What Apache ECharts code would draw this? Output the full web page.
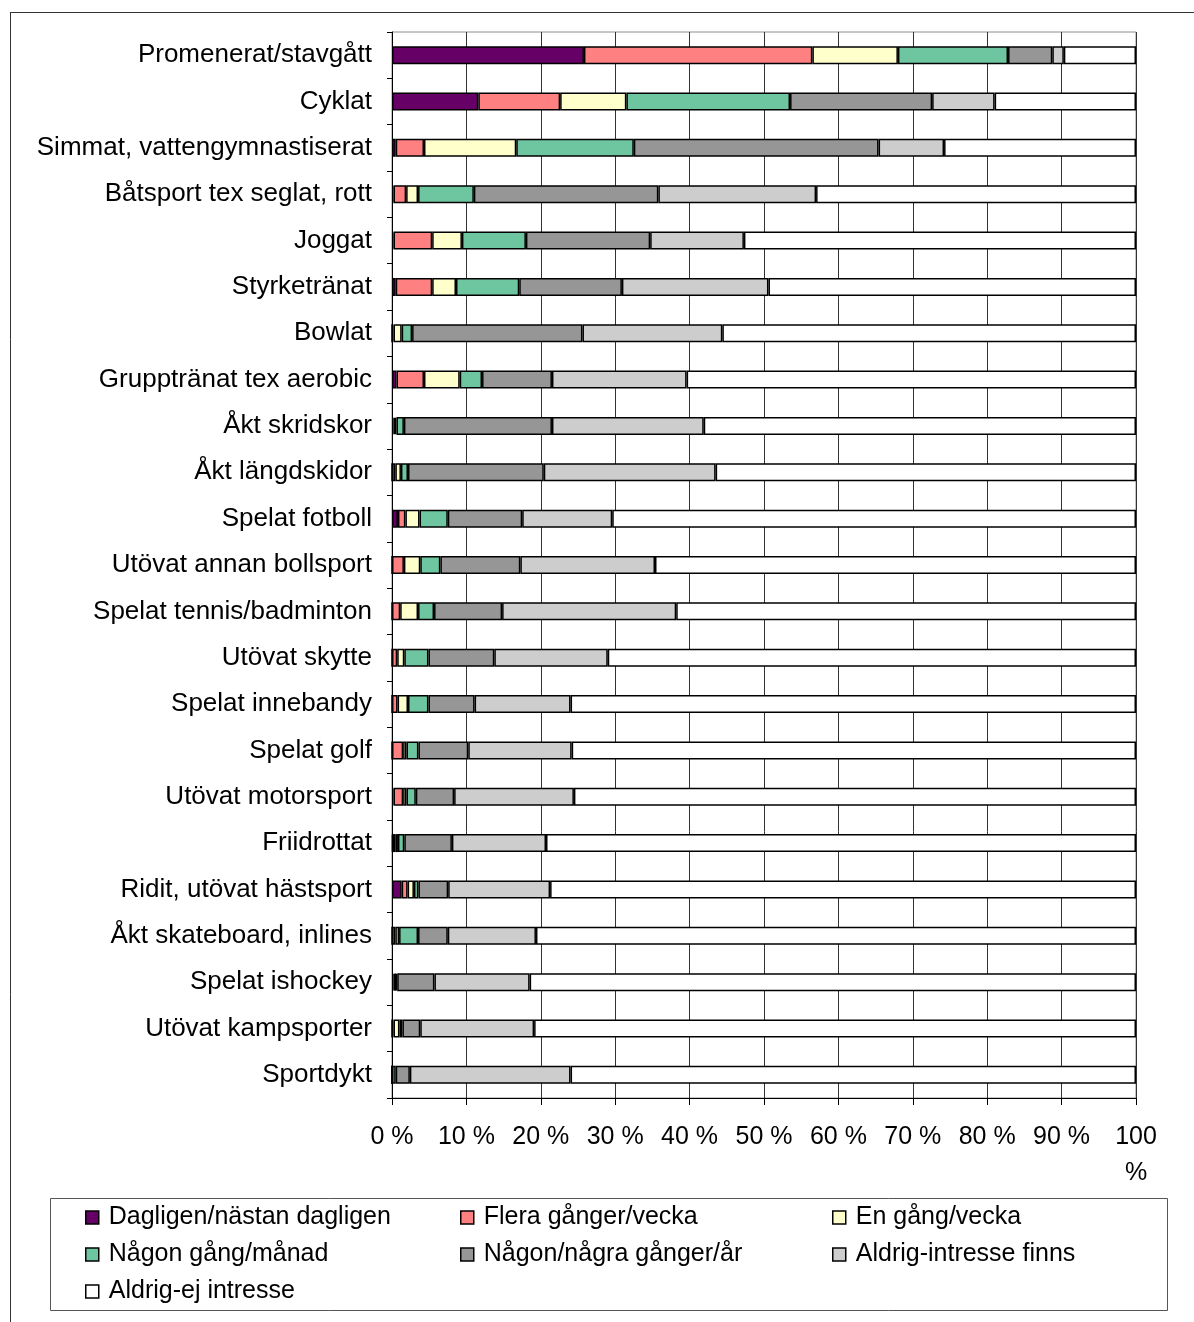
<!DOCTYPE html>
<html>
<head>
<meta charset="utf-8">
<script src="https://cdn.jsdelivr.net/npm/echarts@6/dist/echarts.min.js"></script>
<style>
html,body{margin:0;padding:0;background:#fff;}
#chart{width:1194px;height:1322px;}
</style>
</head>
<body>
<div id="chart"></div>
<script>
const categories = [
  'Promenerat/stavgått','Cyklat','Simmat, vattengymnastiserat','Båtsport tex seglat, rott',
  'Joggat','Styrketränat','Bowlat','Gruppträn​at tex aerobic'.replace('\u200b',''),'Åkt skridskor',
  'Åkt längdskidor','Spelat fotboll','Utövat annan bollsport','Spelat tennis/badminton',
  'Utövat skytte','Spelat innebandy','Spelat golf','Utövat motorsport','Friidrottat',
  'Ridit, utövat hästsport','Åkt skateboard, inlines','Spelat ishockey','Utövat kampsporter','Sportdykt'
];
const seriesNames = ['Dagligen/nästan dagligen','Flera gånger/vecka','En gång/vecka',
  'Någon gång/månad','Någon/några gånger/år','Aldrig-intresse finns','Aldrig-ej intresse'];

const dagligen   = [25.8,11.6,0.5,0.2,0.2,0.5,0,0.6,0.2,0,0.8,0,0,0,0,0,0.2,0.1,1.3,0,0.2,0,0];
const fleraVecka = [30.7,11.0,3.8,1.7,5.2,4.9,0.2,3.7,0.2,0.45,1.0,1.6,1.1,0.7,0.75,1.5,1.3,0.4,0.8,0.45,0.2,0.2,0];
const enVecka    = [11.5,8.9,12.4,1.6,4.0,3.2,1.1,4.8,0.2,0.75,1.9,2.2,2.4,0.95,1.4,0.45,0.45,0.3,0.85,0.5,0.1,0.8,0];
const manad      = [14.8,22.0,15.8,7.5,8.6,8.5,1.4,3.0,1.0,0.95,3.8,2.7,2.15,3.25,2.75,1.6,1.25,0.85,0.6,2.55,0.2,0.4,0.5];
const arVis      = [5.95,19.1,32.9,24.8,16.7,13.8,22.9,9.4,19.9,18.25,10.0,10.75,9.15,8.85,6.2,6.7,5.15,6.4,4.0,4.0,5.0,2.4,1.9];
const intresseFinns = [1.55,8.4,8.8,21.2,12.6,19.7,18.8,18.1,20.4,23.1,12.1,18.1,23.4,15.25,12.9,13.9,16.1,12.65,13.7,11.85,12.8,15.3,21.6];
const ejIntresse = [9.7,19.0,25.8,43.0,52.7,49.4,55.6,60.4,58.1,56.5,70.4,64.65,61.8,71.0,76.0,75.85,75.55,79.3,78.75,80.65,81.5,80.9,76.0];

const xTicks = [0,10,20,30,40,50,60,70,80,90,100];

const colors = ['#660066','#FF8080','#FFFFCC','#6EC6A1','#969696','#CDCDCD','#FFFFFF'];
const allData = [dagligen,fleraVecka,enVecka,manad,arVis,intresseFinns,ejIntresse];

const FONT = 'Liberation Sans, Arial, sans-serif';

const series = seriesNames.map((n,i)=>({
  name:n, type:'bar', stack:'total', barWidth:18,
  data: allData[i],
  itemStyle:{color:colors[i], borderColor:'#000', borderWidth:1.5},
  emphasis:{disabled:true}
}));

const legendBase = {
  orient:'vertical', itemWidth:13, itemHeight:13, itemGap:12, icon:'rect', padding:0,
  textStyle:{fontFamily:FONT, fontSize:25, color:'#000', lineHeight:24, padding:[0,0,0,5]},
  itemStyle:{borderColor:'#000', borderWidth:1.5},
  selectedMode:false, top:1205
};

const option = {
  animation:false,
  backgroundColor:'#fff',
  textStyle:{fontFamily:FONT},
  grid:{left:392, right:58, top:32, bottom:224, show:true, borderColor:'#8c8c8c', borderWidth:1, containLabel:false},
  xAxis:{
    type:'value', min:0, max:100, interval:10,
    axisLine:{show:true, lineStyle:{color:'#000', width:1}},
    axisTick:{show:true, length:7, lineStyle:{color:'#000'}},
    splitLine:{show:true, lineStyle:{color:'#333', width:1}},
    axisLabel:{
      fontFamily:FONT, fontSize:25, color:'#000', margin:21, lineHeight:36,
      formatter:v=> (xTicks.indexOf(v)<0 ? '' : (v===100 ? '100\n%' : v+' %'))
    }
  },
  yAxis:{
    type:'category', inverse:true, data:categories,
    axisLine:{show:true, lineStyle:{color:'#000', width:1}},
    axisTick:{show:true, length:5, lineStyle:{color:'#000'}},
    axisLabel:{fontFamily:FONT, fontSize:26, color:'#000', margin:20, padding:[6,0,0,0]}
  },
  legend:[
    Object.assign({}, legendBase, {left:85, data:[seriesNames[0],seriesNames[3],seriesNames[6]]}),
    Object.assign({}, legendBase, {left:460, data:[seriesNames[1],seriesNames[4]]}),
    Object.assign({}, legendBase, {left:832, data:[seriesNames[2],seriesNames[5]]})
  ],
  graphic:[
    {type:'line', shape:{x1:10, y1:12.5, x2:1194, y2:12.5}, style:{stroke:'#333', lineWidth:1}, silent:true},
    {type:'line', shape:{x1:10.5, y1:12, x2:10.5, y2:1322}, style:{stroke:'#333', lineWidth:1}, silent:true},
    {type:'rect', shape:{x:50.5, y:1198.5, width:1117, height:112}, style:{fill:null, stroke:'#555', lineWidth:1}, silent:true}
  ],
  series: series
};

const chart = echarts.init(document.getElementById('chart'), null, {renderer:'canvas'});
chart.setOption(option);
</script>
</body>
</html>
